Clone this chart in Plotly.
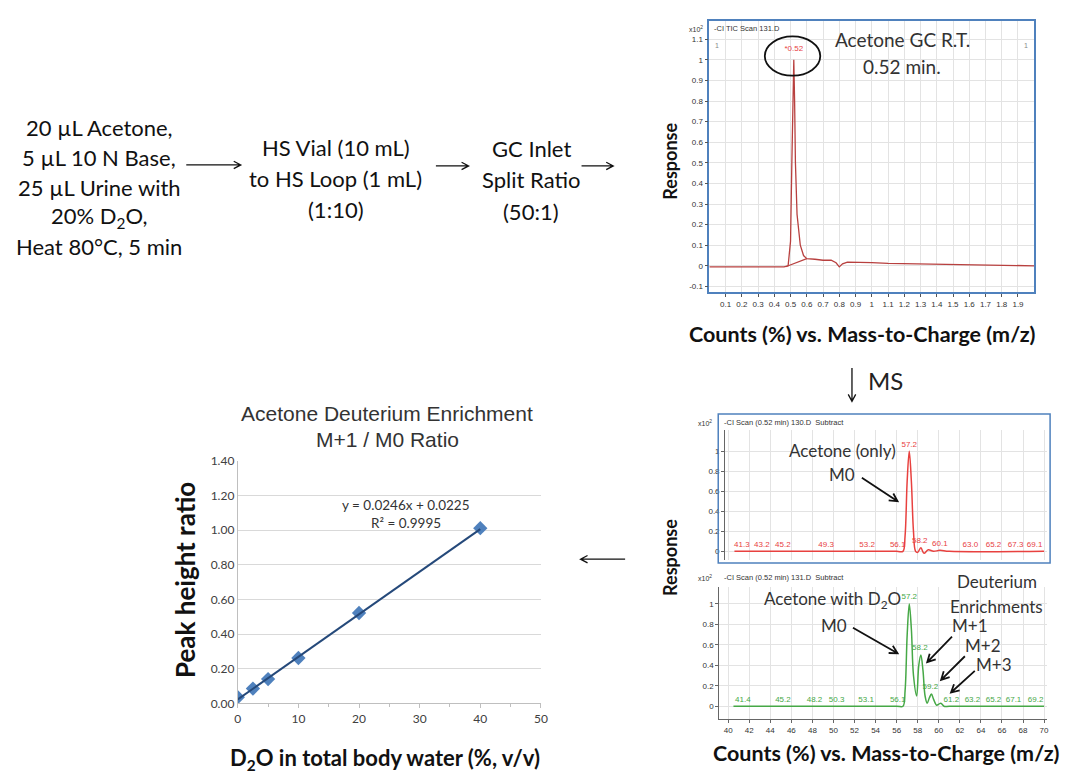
import math
import plotly.graph_objects as go

W, H = 1067, 777

# ---------------- data ----------------
# GC total ion chromatogram
rt_min = [0.0, 0.1, 0.2, 0.3, 0.4, 0.46, 0.485, 0.50, 0.508, 0.515, 0.52, 0.525, 0.53, 0.54, 0.56, 0.58,
          0.60, 0.65, 0.70, 0.75, 0.78, 0.80, 0.82, 0.85, 0.90, 1.0, 1.1, 1.2, 1.3, 1.4, 1.5, 1.6, 1.7, 1.8, 1.9, 2.0]
tic_resp = [-0.005, -0.005, -0.005, -0.005, -0.005, -0.005, 0.0, 0.12, 0.5, 0.85, 1.0, 0.8, 0.5, 0.25, 0.1, 0.05,
            0.035, 0.032, 0.027, 0.027, 0.015, -0.005, 0.01, 0.018, 0.018, 0.016, 0.012, 0.011, 0.01, 0.008, 0.007, 0.006, 0.004, 0.002, 0.001, 0.0]
rt_base = [0.47, 0.60]
resp_base = [-0.005, 0.035]
peak_rt = 0.52
peak_resp = 1.0

# MS spectrum: acetone only
mz_only = [40.6, 56.0, 56.6, 56.8, 57.0, 57.2, 57.4, 57.6, 57.8, 58.0, 58.3, 58.6, 59.0, 59.5, 60.1, 61.0, 70.0]
counts_only = [0.0, 0.0, 0.0, 0.15, 0.7, 1.0, 0.7, 0.2, 0.0, -0.01, 0.035, -0.02, 0.015, 0.0, 0.01, 0.0, 0.0]
lbl_only_mz = [41.3, 43.2, 45.2, 49.3, 53.2, 56.1, 57.2, 58.2, 60.1, 63.0, 65.2, 67.3, 69.1]
lbl_only_h = [0.0, 0.0, 0.0, 0.0, 0.0, 0.0, 1.0, 0.035, 0.01, 0.0, 0.0, 0.0, 0.0]

# MS spectrum: acetone with D2O
mz_d2o = [40.5, 56.0, 56.6, 56.8, 57.0, 57.2, 57.4, 57.6, 57.9, 58.1, 58.3, 58.5, 58.7, 58.9, 59.1, 59.3, 59.5,
          59.8, 60.0, 60.2, 60.5, 61.0, 70.0]
counts_d2o = [0.0, 0.0, 0.0, 0.15, 0.7, 1.0, 0.75, 0.3, 0.1, 0.4, 0.5, 0.35, 0.1, 0.03, 0.08, 0.12, 0.07,
              0.01, 0.02, 0.03, 0.0, 0.0, 0.0]
lbl_d2o_mz = [41.4, 45.2, 48.2, 50.3, 53.1, 56.1, 57.2, 58.2, 59.2, 61.2, 63.2, 65.2, 67.1, 69.2]
lbl_d2o_h = [0.0, 0.0, 0.0, 0.0, 0.0, 0.0, 1.0, 0.5, 0.12, 0.0, 0.0, 0.0, 0.0, 0.0]

# Calibration: M+1/M0 ratio vs D2O enrichment
d2o_pct = [0, 2.5, 5, 10, 20, 40]
ratio = [0.035, 0.085, 0.14, 0.262, 0.522, 1.012]
slope, intercept, r2 = 0.0246, 0.0225, 0.9995

chrom_ticks_x = [round(0.1 * i, 1) for i in range(1, 20)]
chrom_ticks_y = [round(-0.1 + 0.1 * i, 1) for i in range(13)]
ms_ticks_y = [0, 0.2, 0.4, 0.6, 0.8, 1]
ms_ticks_x = list(range(40, 71, 2))

# ---------------- helpers ----------------
def px(x):
    return x / W


def py(y):
    return 1 - y / H


annotations = []
shapes = []


def txt(x, y, text, size=14, color="#333333", family="Lato", bold=False,
        xanchor="center", yanchor="middle", angle=0):
    if bold:
        text = "<b>" + text + "</b>"
    annotations.append(dict(x=px(x), y=py(y), xref="paper", yref="paper", text=text,
                            showarrow=False, xanchor=xanchor, yanchor=yanchor, textangle=angle,
                            font=dict(size=size, color=color, family=family)))


def arrow(x0, y0, x1, y1, head=8, width=1.3, color="#111111", spread=28):
    ang = math.atan2(y1 - y0, x1 - x0)
    a1 = ang + math.pi - math.radians(spread)
    a2 = ang + math.pi + math.radians(spread)
    hx1, hy1 = x1 + head * math.cos(a1), y1 + head * math.sin(a1)
    hx2, hy2 = x1 + head * math.cos(a2), y1 + head * math.sin(a2)
    path = (f"M {px(x0)},{py(y0)} L {px(x1)},{py(y1)} "
            f"M {px(hx1)},{py(hy1)} L {px(x1)},{py(y1)} L {px(hx2)},{py(hy2)}")
    shapes.append(dict(type="path", path=path, xref="paper", yref="paper",
                       line=dict(color=color, width=width)))


# ---------------- figure ----------------
fig = go.Figure()

red_dark = "#b8403f"
red = "#e8413f"
green = "#46a846"

fig.add_trace(go.Scatter(x=rt_min, y=tic_resp, mode="lines", line=dict(color=red_dark, width=1.3),
                         xaxis="x", yaxis="y", hoverinfo="skip"))
fig.add_trace(go.Scatter(x=rt_base, y=resp_base, mode="lines", line=dict(color=red_dark, width=1.1),
                         xaxis="x", yaxis="y", hoverinfo="skip"))
fig.add_trace(go.Scatter(x=[peak_rt], y=[peak_resp + 0.055], mode="text", text=[f"*{peak_rt}"],
                         textfont=dict(size=8, color=red, family="Liberation Sans"),
                         xaxis="x", yaxis="y", hoverinfo="skip"))

fig.add_trace(go.Scatter(x=mz_only, y=counts_only, mode="lines", line=dict(color=red, width=1.5, shape="spline"),
                         xaxis="x2", yaxis="y2", hoverinfo="skip"))
fig.add_trace(go.Scatter(x=lbl_only_mz, y=[h + 0.065 for h in lbl_only_h], mode="text",
                         text=[f"{v:.1f}" for v in lbl_only_mz],
                         textfont=dict(size=8, color=red, family="Liberation Sans"),
                         xaxis="x2", yaxis="y2", hoverinfo="skip"))

fig.add_trace(go.Scatter(x=mz_d2o, y=counts_d2o, mode="lines", line=dict(color=green, width=1.5, shape="spline"),
                         xaxis="x3", yaxis="y3", hoverinfo="skip"))
fig.add_trace(go.Scatter(x=lbl_d2o_mz, y=[h + 0.065 for h in lbl_d2o_h], mode="text",
                         text=[f"{v:.1f}" for v in lbl_d2o_mz],
                         textfont=dict(size=8, color=green, family="Liberation Sans"),
                         xaxis="x3", yaxis="y3", hoverinfo="skip"))

fig.add_trace(go.Scatter(x=d2o_pct, y=ratio, mode="markers",
                         marker=dict(symbol="diamond", size=11, color="#4f81bd"),
                         xaxis="x4", yaxis="y4", hoverinfo="skip"))
fit_x = [min(d2o_pct), max(d2o_pct)]
fit_y = [slope * v + intercept for v in fit_x]
fig.add_trace(go.Scatter(x=fit_x, y=fit_y, mode="lines", line=dict(color="#25497a", width=2),
                         xaxis="x4", yaxis="y4", hoverinfo="skip"))

small = dict(size=8, color="#333333", family="Liberation Sans")
grid = "#e3e3e3"

layout = dict(
    width=W, height=H, margin=dict(l=0, r=0, t=0, b=0),
    paper_bgcolor="white", plot_bgcolor="white", showlegend=False,
    xaxis=dict(domain=[713 / W, 1041 / W], range=[0, 2.0], tickvals=chrom_ticks_x,
               ticktext=[f"{v:g}" for v in chrom_ticks_x], tickfont=small, showgrid=True, gridcolor=grid,
               showline=True, mirror=True, linecolor="#4f81bd", linewidth=1.5, ticks="outside",
               ticklen=3, tickcolor="#555", zeroline=False, anchor="y"),
    yaxis=dict(domain=[py(290), py(13)], range=[-0.129, 1.19], tickvals=chrom_ticks_y,
               ticktext=[f"{v:g}" for v in chrom_ticks_y], tickfont=small, showgrid=True, gridcolor=grid,
               showline=True, mirror=True, linecolor="#4f81bd", linewidth=1.5, ticks="outside",
               ticklen=3, tickcolor="#555", zeroline=False, anchor="x"),
    xaxis2=dict(domain=[729 / W, 1054 / W], range=[39.72, 70.29], showticklabels=False, tickvals=ms_ticks_x,
                showgrid=True, gridcolor=grid, zeroline=False, showline=False, anchor="y2"),
    yaxis2=dict(domain=[py(563), py(430)], range=[-0.088, 1.216], tickvals=ms_ticks_y,
                ticktext=[f"{v:g}" for v in ms_ticks_y], tickfont=small, showgrid=True, gridcolor=grid,
                showline=True, linecolor="#666", ticks="outside", ticklen=3, tickcolor="#666",
                zeroline=False, anchor="x2"),
    xaxis3=dict(domain=[723 / W, 1054 / W], range=[39.15, 70.29], tickvals=ms_ticks_x,
                ticktext=[str(v) for v in ms_ticks_x], tickfont=small, showgrid=True, gridcolor=grid,
                showline=True, linecolor="#666", ticks="outside", ticklen=3, tickcolor="#666",
                zeroline=False, anchor="y3"),
    yaxis3=dict(domain=[py(725), py(590)], range=[-0.125, 1.17], tickvals=ms_ticks_y,
                ticktext=[f"{v:g}" for v in ms_ticks_y], tickfont=small, showgrid=True, gridcolor=grid,
                showline=True, linecolor="#666", ticks="outside", ticklen=3, tickcolor="#666",
                zeroline=False, anchor="x3"),
    xaxis4=dict(domain=[237 / W, 543 / W], range=[0, 50], dtick=10, showgrid=False,
                showline=True, linecolor="#bfbfbf", ticks="outside", ticklen=4, tickcolor="#bfbfbf",
                minor=dict(dtick=5, ticks="outside", ticklen=3, tickcolor="#bfbfbf"),
                tickfont=dict(size=12, color="#404040", family="Lato"), zeroline=False, anchor="y4"),
    yaxis4=dict(domain=[py(709), py(462)], range=[0, 1.4], dtick=0.2, tickformat=".2f",
                showgrid=True, gridcolor="#d9d9d9", showline=True, linecolor="#bfbfbf",
                tickfont=dict(size=12, color="#404040", family="Lato"), zeroline=False, anchor="x4"),
)

# ---------- flow text (left) ----------
flow_font = 22
for i, line in enumerate(["20 µL Acetone,", "5 µL 10 N Base,", "25 µL Urine with",
                          "20% D<sub>2</sub>O,", "Heat 80°C, 5 min"]):
    txt(97, 122 + 30.3 * i, line, size=flow_font, color="#111111")
for i, line in enumerate(["HS Vial (10 mL)", "to HS Loop (1 mL)", "(1:10)"]):
    txt(336, 142 + 31.5 * i, line, size=flow_font, color="#111111")
for i, line in enumerate(["GC Inlet", "Split Ratio", "(50:1)"]):
    txt(533, 143 + 32 * i, line, size=flow_font, color="#111111")
arrow(185, 160, 240, 160, head=8, width=1.3)
arrow(437, 161, 470, 161, head=8, width=1.3)
arrow(584, 161, 616, 161, head=8, width=1.3)

# ---------- chromatogram extras ----------
txt(716, 21, "-CI TIC Scan 131.D", size=7.5, color="#333", family="Liberation Sans", xanchor="left")
txt(709, 21, "x10<sup>2</sup>", size=7, color="#333", family="Liberation Sans", xanchor="right")
txt(717, 38, "1", size=7, color="#888", family="Liberation Sans", xanchor="left")
txt(1037, 38, "1", size=7, color="#888", family="Liberation Sans", xanchor="right")
txt(908, 32, "Acetone GC R.T.", size=19, color="#333333")
txt(908, 60, "0.52 min.", size=19, color="#333333")
shapes.append(dict(type="circle", xref="paper", yref="paper", x0=px(769), x1=px(825),
                   y0=py(69), y1=py(29), line=dict(color="#111111", width=1.8)))
txt(673, 156, "Response", size=18, color="#111111", bold=True, angle=-90)
txt(868, 332, "Counts (%) vs. Mass-to-Charge (m/z)", size=21.5, color="#111111", bold=True)

# ---------- MS arrow ----------
arrow(857, 367, 857, 401, head=8, width=1.3)
txt(891, 380, "MS", size=24, color="#222222")

# ---------- MS panels extras ----------
shapes.append(dict(type="rect", xref="paper", yref="paper", x0=px(722), x1=px(1057), y0=py(566), y1=py(414),
                   line=dict(color="#4f81bd", width=1.5)))
txt(726, 423, "-CI Scan (0.52 min) 130.D  Subtract", size=7.5, color="#333", family="Liberation Sans",
    xanchor="left")
txt(718, 423, "x10<sup>2</sup>", size=7, color="#333", family="Liberation Sans", xanchor="right")
txt(847, 451, "Acetone (only)", size=17, color="#333333")
txt(847, 476, "M0", size=17, color="#333333")
arrow(867, 479, 903, 503, head=9, width=1.8)

txt(726, 581, "-CI Scan (0.52 min) 131.D  Subtract", size=7.5, color="#333", family="Liberation Sans",
    xanchor="left")
txt(718, 581, "x10<sup>2</sup>", size=7, color="#333", family="Liberation Sans", xanchor="right")
txt(837, 604, "Acetone with D<sub>2</sub>O", size=17, color="#333333")
txt(839, 630, "M0", size=17, color="#333333")
txt(1003, 585, "Deuterium", size=17, color="#333333")
txt(1003, 610, "Enrichments", size=17, color="#333333")
txt(976, 630, "M+1", size=17, color="#333333")
txt(989, 650, "M+2", size=17, color="#333333")
txt(1000, 669, "M+3", size=17, color="#333333")
arrow(858, 632, 903, 658, head=9, width=1.8)
arrow(958, 641, 933, 667, head=9, width=1.8)
arrow(971, 661, 947, 685, head=9, width=1.8)
arrow(981, 676, 957, 698, head=9, width=1.8)
txt(673, 560, "Response", size=18, color="#111111", bold=True, angle=-90)
txt(892, 760, "Counts (%) vs. Mass-to-Charge (m/z)", size=21.5, color="#111111", bold=True)

# ---------- arrow to calibration ----------
arrow(628, 562, 583, 562, head=8, width=1.3)

# ---------- calibration chart texts ----------
txt(388, 413, "Acetone Deuterium Enrichment", size=21, color="#333333", family="Liberation Sans")
txt(388, 440, "M+1 / M0 Ratio", size=21, color="#333333", family="Liberation Sans")
txt(407, 507, f"y = {slope}x + {intercept}", size=13.5, color="#333333")
txt(407, 525, f"R² = {r2}", size=13.5, color="#333333")
txt(183, 583, "Peak height ratio", size=26, color="#111111", bold=True, angle=-90)
txt(386, 766, "D<sub>2</sub>O in total body water (%, v/v)", size=22, color="#111111", bold=True)

layout["annotations"] = annotations
layout["shapes"] = shapes
fig.update_layout(**layout)
fig.write_html("out.html", config={"displayModeBar": False},
               post_script="document.body.style.margin='0';")
